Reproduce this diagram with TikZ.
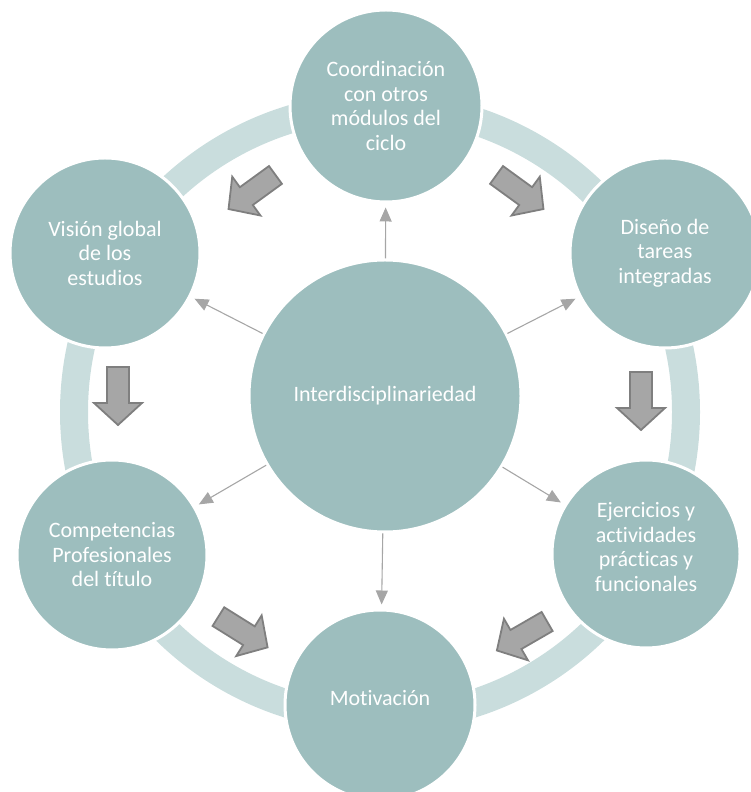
\documentclass[tikz,border=0pt]{standalone}
\usepackage{fontspec}
\setmainfont{Carlito}[Ligatures=NoCommon]
\usepackage{tikz}
\usetikzlibrary{arrows.meta}
\definecolor{circfill}{HTML}{9DBEBE}
\definecolor{ringcol}{HTML}{C9DDDD}
\definecolor{blkfill}{HTML}{A6A6A6}
\definecolor{blkdraw}{HTML}{7F7F7F}
\definecolor{thincol}{HTML}{A6A6A6}

\begin{document}
\begin{tikzpicture}[x=1pt,y=1pt,
                    circ/.style={circle,fill=circfill,draw=white,
                    line width=3pt,text=white,align=center,
                    inner sep=0pt,minimum size=#1,
                    font=\fontsize{22}{24.5}\selectfont},
                    ring/.style={draw=ringcol,line width=28pt},
                    thinarr/.style={draw=thincol,line width=1.1pt,
                    -{Triangle[length=14pt,width=12pt]},
                    shorten >=4pt},
                    bigarr/.style={fill=blkfill,draw=blkdraw,
                    line width=1.8pt,line join=miter},
                    bigarrow/.pic={\path[bigarr] (-29,-11) -- (7,-11) -- (7,-24)
                        -- (29,0) -- (7,24) -- (7,11) -- (-29,11) -- cycle;}]
    \useasboundingbox (0,0) rectangle (750,792);
    % ring behind the circles
    \draw[ring] (380,380) circle (306pt);

    \node[circ=272pt](ctr) at (385,396) {Interdisciplinariedad};
    \node[circ=192pt](coord) at (386,686) {Coordinación\\con otros\\módulos del\\ciclo};
    \node[circ=190pt](vision) at (105,539) {Visión global\\de los\\estudios};
    \node[circ=190pt](diseno) at (665,539) {Diseño de\\tareas\\integradas};
    \node[circ=190pt](compet) at (112,237) {Competencias\\Profesionales\\del título};
    \node[circ=188pt](ejerc) at (646,238) {Ejercicios y\\actividades\\prácticas y\\funcionales\\[-10pt]};
    \node[circ=190pt,text depth=14pt](motiv) at (380,87) {Motivación};

    \draw[thinarr] (ctr) -- (coord);
    \draw[thinarr] (ctr) -- (vision);
    \draw[thinarr] (ctr) -- (diseno);
    \draw[thinarr] (ctr) -- (compet);
    \draw[thinarr] (ctr) -- (ejerc);
    \draw[thinarr] (ctr) -- (motiv);

    % block arrows round the cycle
    \pic[rotate=216] at (252,600) {bigarrow};
    \pic[rotate=-36] at (520,600) {bigarrow};
    \pic[rotate=-90] at (118,396) {bigarrow};
    \pic[rotate=-90] at (641,391) {bigarrow};
    \pic[rotate=-32] at (243,160) {bigarrow};
    \pic[rotate=210] at (522,156) {bigarrow};
\end{tikzpicture}
\end{document}
